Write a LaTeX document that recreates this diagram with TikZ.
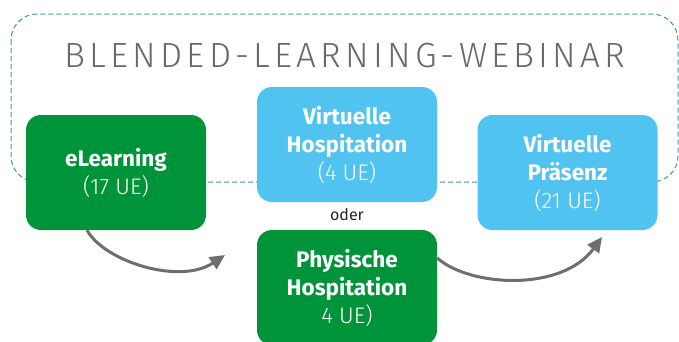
\documentclass[tikz,border=0pt]{standalone}
\usepackage{fontspec}
\setmainfont{Fira Sans}
\newfontfamily\lightfont{Fira Sans Light}
\newfontfamily\titlefont{Fira Sans Light}[LetterSpace=12]
\usepackage{tikz}
\usetikzlibrary{arrows.meta}
\definecolor{kursgruen}{RGB}{0,148,58}
\definecolor{kursblau}{RGB}{80,195,240}
\definecolor{pfeilgrau}{RGB}{110,110,110}
\definecolor{rahmenblau}{RGB}{70,145,185}
\definecolor{titelgrau}{RGB}{105,105,105}

\begin{document}
\begin{tikzpicture}[x=1pt,y=-1pt]
\useasboundingbox (0,0) rectangle (679,341);
\clip (0,0) rectangle (679,341);

% dashed frame round the webinar part
\draw[rahmenblau, dash pattern=on 5pt off 3pt, line width=1pt, rounded corners=26pt] (11,14) rectangle (678,182);
\node[titelgrau, anchor=base, inner sep=0pt] (titel) at (345,67) {\titlefont\fontsize{35}{40}\selectfont BLENDED-LEARNING-WEBINAR};

\begin{scope}[every node/.style={rounded corners=15pt, minimum width=180pt, minimum height=115pt, inner sep=0pt, text=white, align=center, font=\fontsize{22.5}{28}\selectfont}]
    \node[fill=kursgruen] (el) at (116,172.5) {\textbf{eLearning}\\{\lightfont (17 UE)}};
    \node[fill=kursblau] (vh) at (347,144.5) {\textbf{Virtuelle}\\\textbf{Hospitation}\\{\lightfont (4 UE)}};
    \node[fill=kursgruen] (ph) at (347,287.5) {\textbf{Physische}\\\textbf{Hospitation}\\{\lightfont 4 UE)}};
    \node[fill=kursblau] (vp) at (567.5,172.5) {\textbf{Virtuelle}\\\textbf{Präsenz}\\{\lightfont (21 UE)}};
\end{scope}

\node[inner sep=0pt, text=black!85, font=\fontsize{16}{19}\selectfont] (oder) at (347,215) {oder};

\coordinate (z1) at (225,255);
\coordinate (z2) at (602,237);

\draw[pfeilgrau, line width=3pt, -{Triangle[length=15pt,width=14pt]}] ([xshift=-29pt]el.south) .. controls (105,262) and (180,285) .. (z1);
\draw[pfeilgrau, line width=3pt, -{Triangle[length=15pt,width=14pt]}] ([yshift=29.5pt]ph.east) .. controls (470,287) and (562,292) .. (z2);
\end{tikzpicture}
\end{document}
